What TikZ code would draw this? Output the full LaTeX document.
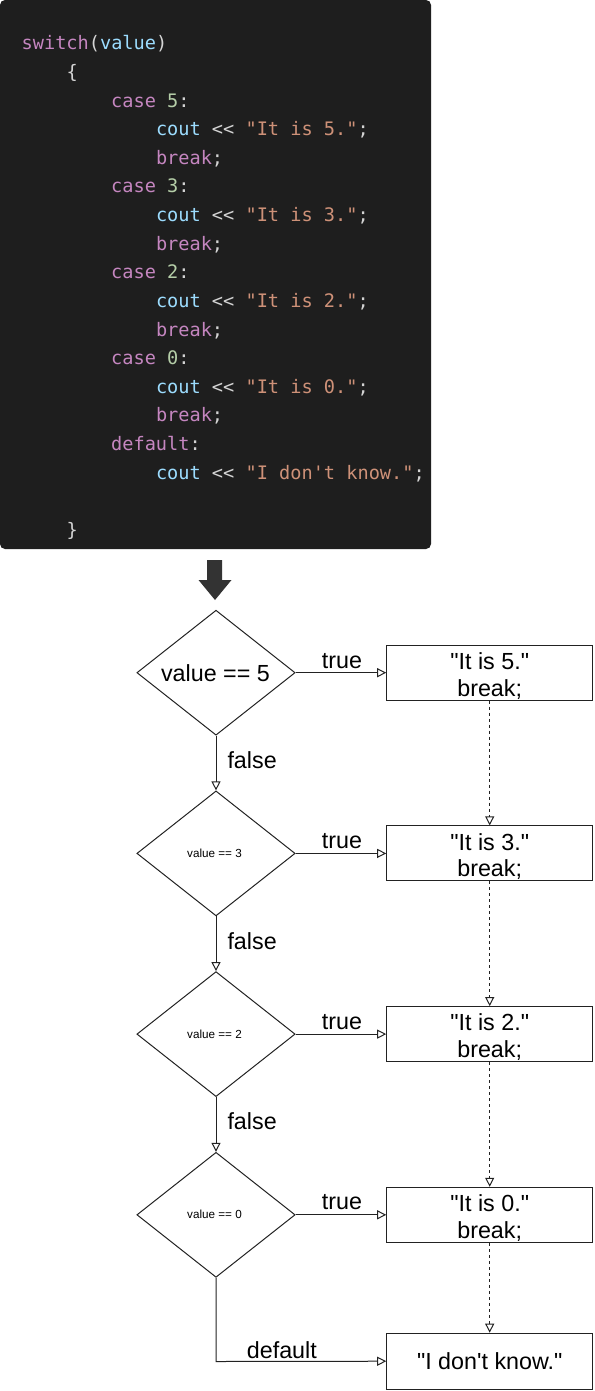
\documentclass[tikz,border=0pt]{standalone}
\usepackage{fontspec}
\usetikzlibrary{shapes.geometric,arrows.meta}
\newfontfamily\arialfont{Liberation Sans}
\newfontfamily\codefont{DejaVu Sans Mono}
\definecolor{codebg}{HTML}{1E1E1E}
\definecolor{ckwc}{HTML}{C586C0}
\definecolor{cvarc}{HTML}{9CDCFE}
\definecolor{cnumc}{HTML}{B5CEA8}
\definecolor{cstrc}{HTML}{CE9178}
\definecolor{cpunc}{HTML}{D4D4D4}
\definecolor{linec}{HTML}{222222}
\definecolor{bigarrow}{HTML}{333333}
\newcommand\ckw[1]{\textcolor{ckwc}{#1}}
\newcommand\cvar[1]{\textcolor{cvarc}{#1}}
\newcommand\cnum[1]{\textcolor{cnumc}{#1}}
\newcommand\cstr[1]{\textcolor{cstrc}{#1}}
\newcommand\cpun[1]{\textcolor{cpunc}{#1}}
\tikzset{
  codeline/.style={anchor=base west, inner sep=0pt, font=\codefont\fontsize{18.6pt}{22pt}\selectfont},
  decision/.style={diamond, draw=linec, line width=1pt, minimum width=158.3pt, minimum height=125pt, inner sep=0pt},
  actbox/.style={rectangle, draw=linec, line width=1pt, minimum width=206pt, minimum height=55pt, inner sep=0pt},
  bigtxt/.style={inner sep=0pt, font=\arialfont\fontsize{23.3pt}{26.7pt}\selectfont},
  smalltxt/.style={inner sep=0pt, font=\arialfont\fontsize{11.7pt}{14pt}\selectfont},
  flow/.style={draw=linec, line width=1pt, -{Triangle[open, length=9pt, width=9pt]}},
  dflow/.style={flow, dash pattern=on 3pt off 3pt},
}
\begin{document}
\begin{tikzpicture}[x=1pt,y=-1pt]
\useasboundingbox (0,0) rectangle (594,1391);
% code block
\fill[codebg, rounded corners=5pt] (0,0) rectangle (431,549);
\node[codeline] (l0) at (21.5,50) {\ckw{switch}\cpun{(}\cvar{value}\cpun{)}};
\node[codeline] (l1) at (66.3,78.6) {\cpun{\{}};
\node[codeline] (l2) at (111,107.2) {\ckw{case} \cnum{5}\cpun{:}};
\node[codeline] (l3) at (155.8,135.8) {\cvar{cout} \cpun{<<} \cstr{"It is 5."}\cpun{;}};
\node[codeline] (l4) at (155.8,164.4) {\ckw{break}\cpun{;}};
\node[codeline] (l5) at (111,193) {\ckw{case} \cnum{3}\cpun{:}};
\node[codeline] (l6) at (155.8,221.6) {\cvar{cout} \cpun{<<} \cstr{"It is 3."}\cpun{;}};
\node[codeline] (l7) at (155.8,250.2) {\ckw{break}\cpun{;}};
\node[codeline] (l8) at (111,278.8) {\ckw{case} \cnum{2}\cpun{:}};
\node[codeline] (l9) at (155.8,307.4) {\cvar{cout} \cpun{<<} \cstr{"It is 2."}\cpun{;}};
\node[codeline] (l10) at (155.8,336) {\ckw{break}\cpun{;}};
\node[codeline] (l11) at (111,364.6) {\ckw{case} \cnum{0}\cpun{:}};
\node[codeline] (l12) at (155.8,393.2) {\cvar{cout} \cpun{<<} \cstr{"It is 0."}\cpun{;}};
\node[codeline] (l13) at (155.8,421.8) {\ckw{break}\cpun{;}};
\node[codeline] (l14) at (111,450.4) {\ckw{default}\cpun{:}};
\node[codeline] (l15) at (155.8,479) {\cvar{cout} \cpun{<<} \cstr{"I don't know."}\cpun{;}};
\node[codeline] (l17) at (66.3,536.2) {\cpun{\}}};
% big arrow
\fill[bigarrow] (207,560) -- (222,560) -- (222,580) -- (231.5,580) -- (215,600) -- (198.5,580) -- (207,580) -- cycle;
% decisions
\node[decision] (d1) at (216,672.7) {};
\node[decision] (d2) at (216,853.4) {};
\node[decision] (d3) at (216,1034.1) {};
\node[decision] (d4) at (216,1214.8) {};
\node[bigtxt, anchor=base] (d1t) at (215.5,681) {value == 5};
\node[smalltxt, anchor=base] (d2t) at (214.5,857.5) {value == 3};
\node[smalltxt, anchor=base] (d3t) at (214.5,1038.2) {value == 2};
\node[smalltxt, anchor=base] (d4t) at (214.5,1218.9) {value == 0};
% boxes
\node[actbox] (b1) at (489.7,672.7) {};
\node[actbox] (b2) at (489.7,853.4) {};
\node[actbox] (b3) at (489.7,1034.1) {};
\node[actbox] (b4) at (489.7,1214.8) {};
\node[actbox, minimum height=56pt] (b5) at (489.7,1361.2) {};
\node[bigtxt, anchor=base] (b1a) at (489.7,669.3) {"It is 5."};
\node[bigtxt, anchor=base] (b1b) at (489.7,696) {break;};
\node[bigtxt, anchor=base] (b2a) at (489.7,850) {"It is 3."};
\node[bigtxt, anchor=base] (b2b) at (489.7,876.7) {break;};
\node[bigtxt, anchor=base] (b3a) at (489.7,1030.7) {"It is 2."};
\node[bigtxt, anchor=base] (b3b) at (489.7,1057.4) {break;};
\node[bigtxt, anchor=base] (b4a) at (489.7,1211.4) {"It is 0."};
\node[bigtxt, anchor=base] (b4b) at (489.7,1238.1) {break;};
\node[bigtxt, anchor=base] (b5a) at (489.7,1369.6) {"I don't know."};
% true arrows
\draw[flow] (d1.east) -- (b1.west);
\draw[flow] (d2.east) -- (b2.west);
\draw[flow] (d3.east) -- (b3.west);
\draw[flow] (d4.east) -- (b4.west);
\node[bigtxt, anchor=base] (t1) at (342,668.3) {true};
\node[bigtxt, anchor=base] (t2) at (342,848.7) {true};
\node[bigtxt, anchor=base] (t3) at (342,1029.2) {true};
\node[bigtxt, anchor=base] (t4) at (342,1209.6) {true};
% false arrows
\draw[flow] (d1.south) -- (d2.north);
\draw[flow] (d2.south) -- (d3.north);
\draw[flow] (d3.south) -- (d4.north);
\node[bigtxt, anchor=base west] (f1) at (227.3,768.3) {false};
\node[bigtxt, anchor=base west] (f2) at (227.3,949) {false};
\node[bigtxt, anchor=base west] (f3) at (227.3,1129.7) {false};
% default
\coordinate (dc) at (216,1361.5);
\draw[flow] (d4.south) -- (dc) -- (b5.west);
\node[bigtxt, anchor=base west] (df) at (246.7,1358.3) {default};
% dashed break arrows
\draw[dflow] (b1.south) -- (b2.north);
\draw[dflow] (b2.south) -- (b3.north);
\draw[dflow] (b3.south) -- (b4.north);
\draw[dflow] (b4.south) -- (b5.north);
\end{tikzpicture}
\end{document}
